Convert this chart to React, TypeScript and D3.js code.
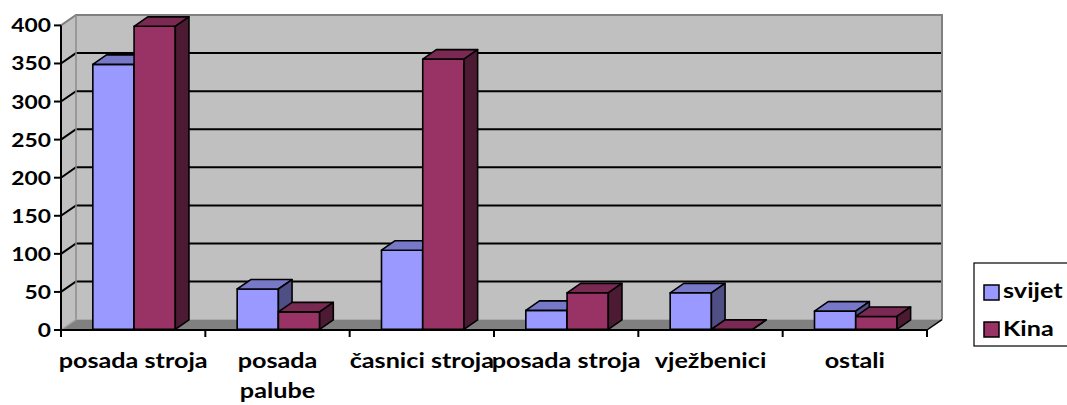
import React from 'react';
import * as d3 from 'd3';

const categories = ['posada stroja', 'posada palube', 'časnici stroja', 'posada stroja', 'vježbenici', 'ostali'];
const seriesNames = ['svijet', 'Kina'];
const svijet = [348, 53, 104, 25, 48, 24];
const kina = [398, 23, 355, 48, 0, 17];
const yTicks = [0, 50, 100, 150, 200, 250, 300, 350, 400];

const seriesColors = [
  { front: '#9999FF', top: '#7878C8', side: '#4F4F86' },
  { front: '#993366', top: '#7A2952', side: '#4C1A33' },
];

const W = 1067, H = 405;
const X0 = 61, X1 = 927, Y0 = 330, YT = 25.4;
const DX = 15, DY = -10.4;
const Z0 = 0.06, Z1 = 0.97;
const FONT = 'Lato, "DejaVu Sans", sans-serif';
const FS_AXIS = 19;
const FS_CAT = 21;
const SX = 1.2;

const P = (x: number, y: number, z: number) => [x + DX * z, y + DY * z];
const poly = (pts: number[][]) => pts.map((p) => p.join(',')).join(' ');

function measure(text: string, fs: number) {
  const c = document.createElement('canvas').getContext('2d');
  if (!c) return text.length * fs * 0.55 * SX;
  c.font = `bold ${fs}px Lato`;
  return c.measureText(text).width * SX;
}

function wrap(label: string, maxW: number, fs: number) {
  if (measure(label, fs) <= maxW * 1.06) return [label];
  const words = label.split(' ');
  const lines: string[] = [];
  let cur = '';
  words.forEach((w) => {
    const t = cur ? cur + ' ' + w : w;
    if (cur && measure(t, fs) > maxW) {
      lines.push(cur);
      cur = w;
    } else cur = t;
  });
  if (cur) lines.push(cur);
  return lines;
}

export default function App() {
  const values = [svijet, kina];
  const y = d3.scaleLinear().domain([0, 400]).range([Y0, YT]);
  const x = d3.scaleBand<number>().domain(d3.range(categories.length)).range([X0, X1]).paddingInner(0).paddingOuter(0);
  const s = d3.scaleBand<string>().domain(seriesNames).range([0, x.bandwidth()]).paddingInner(0).paddingOuter(0.75);
  const bw = s.bandwidth();

  const wallTop = P(X0, YT, 1);
  const backL = X0 + DX;
  const backR = X1 + DX;
  const backTopY = YT + DY;
  const backBotY = Y0 + DY;

  const text = (t: string, tx: number, ty: number, anchor: string, fs: number, key?: string | number) => (
    <text
      key={key}
      transform={`translate(${tx},${ty}) scale(${SX},1)`}
      textAnchor={anchor}
      fontFamily={FONT}
      fontWeight="bold"
      fontSize={fs}
      fill="#000"
    >
      {t}
    </text>
  );

  return (
    <svg width={W} height={H} style={{ position: 'absolute', left: 0, top: 0, background: '#fff' }}>
      {/* side wall */}
      <polygon points={poly([[X0, Y0], [X0, YT], wallTop, [backL, backBotY]])} fill="#C0C0C0" />
      {/* back wall */}
      <rect x={backL} y={backTopY} width={backR - backL} height={backBotY - backTopY} fill="#C0C0C0" />
      {/* floor */}
      <polygon points={poly([[X0, Y0], [backL, backBotY], [backR, backBotY], [X1, Y0]])} fill="#808080" />
      {/* gridlines */}
      {yTicks.filter((t) => t > 0 && t < 400).map((t) => (
        <polyline
          key={t}
          points={poly([[X0, y(t)], P(X0, y(t), 1), P(X1, y(t), 1)])}
          fill="none"
          stroke="#000"
          strokeWidth={2}
        />
      ))}
      {/* wall borders */}
      <polyline points={poly([[X0, YT], wallTop, [backR, backTopY], [backR, backBotY]])} fill="none" stroke="#808080" strokeWidth={2} />
      <line x1={backL} y1={backTopY} x2={backL} y2={backBotY} stroke="#8C8C8C" strokeWidth={1.5} />
      <line x1={X0} y1={Y0} x2={backL} y2={backBotY} stroke="#A0A0A0" strokeWidth={1.5} />
      {/* bars */}
      {categories.map((_, i) =>
        seriesNames.map((name, j) => {
          const v = values[j][i];
          const xl = (x(i) as number) + (s(name) as number);
          const xr = xl + bw;
          const yb = y(0), yt = y(v);
          const col = seriesColors[j];
          return (
            <g key={`${i}-${j}`} stroke="#000" strokeWidth={1.6} strokeLinejoin="round">
              <polygon points={poly([P(xl, yb, Z0), P(xr, yb, Z0), P(xr, yt, Z0), P(xl, yt, Z0)])} fill={col.front} />
              <polygon points={poly([P(xl, yt, Z0), P(xr, yt, Z0), P(xr, yt, Z1), P(xl, yt, Z1)])} fill={col.top} />
              <polygon points={poly([P(xr, yb, Z0), P(xr, yb, Z1), P(xr, yt, Z1), P(xr, yt, Z0)])} fill={col.side} />
            </g>
          );
        })
      )}
      {/* y axis */}
      <line x1={X0} y1={YT} x2={X0} y2={Y0} stroke="#000" strokeWidth={2} />
      {yTicks.map((t) => (
        <g key={t}>
          <line x1={X0 - 7} y1={y(t)} x2={X0} y2={y(t)} stroke="#000" strokeWidth={2} />
          {text(String(t), X0 - 10, y(t) + 7, 'end', FS_AXIS)}
        </g>
      ))}
      {/* x axis */}
      <line x1={X0} y1={Y0} x2={X1} y2={Y0} stroke="#000" strokeWidth={2} />
      <line x1={X1} y1={Y0} x2={backR} y2={backBotY} stroke="#000" strokeWidth={1.5} />
      {d3.range(categories.length + 1).map((i) => {
        const xx = i < categories.length ? (x(i) as number) : X1;
        return <line key={i} x1={xx} y1={Y0} x2={xx} y2={Y0 + 7} stroke="#000" strokeWidth={2} />;
      })}
      {categories.map((c, i) => {
        const cx = (x(i) as number) + x.bandwidth() / 2;
        const lines = wrap(c, x.bandwidth(), FS_CAT);
        return <g key={i}>{lines.map((l, k) => text(l, cx, 368 + k * 30, 'middle', FS_CAT, k))}</g>;
      })}
      {/* legend */}
      <rect x={974} y={263} width={110} height={83} fill="#fff" stroke="#000" strokeWidth={1.2} />
      {seriesNames.map((n, j) => (
        <g key={n}>
          <rect x={984} y={285 + j * 37} width={15} height={15} fill={seriesColors[j].front} stroke="#000" strokeWidth={1.5} />
          {text(n, 1003, 298 + j * 38, 'start', FS_CAT)}
        </g>
      ))}
    </svg>
  );
}
